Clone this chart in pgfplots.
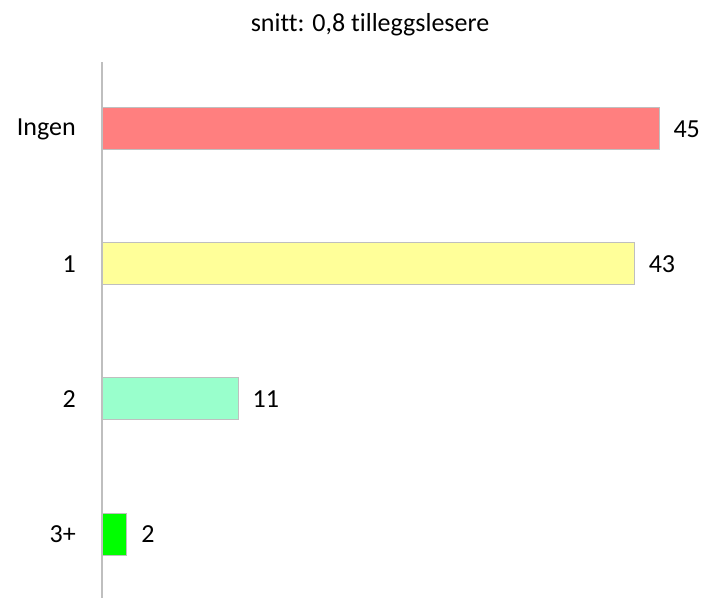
\documentclass[border=0pt]{standalone}
\usepackage{fontspec}
\setmainfont{Carlito}[Ligatures=NoCommon]
\usepackage{pgfplots}
\pgfplotsset{compat=1.18}
\definecolor{cIngen}{HTML}{FF7F7F}
\definecolor{cEn}{HTML}{FFFF99}
\definecolor{cTo}{HTML}{99FFCC}
\definecolor{cTre}{HTML}{00FF00}
\definecolor{edge}{HTML}{BFBFBF}
\begin{document}
\fontsize{19.5}{23}\selectfont
\begin{tikzpicture}
\useasboundingbox (0,0) rectangle (528.75pt,448.5pt);
\node[font=\fontsize{19.5}{23}\selectfont] at (277.5pt,429.75pt) {snitt: 0,8 tilleggslesere};
\begin{axis}[
  at={(76.5pt,0pt)}, anchor=south west,
  scale only axis, width=441pt, height=402pt,
  xmin=0, xmax=47.5, ymin=-0.474, ymax=3.496,
  xbar, bar width=31.5pt, bar shift=0pt,
  axis lines*=left,
  x axis line style={draw=none},
  y axis line style={draw=edge, line width=1.1pt},
  xtick=\empty,
  ytick={0,1,2,3},
  yticklabels={3+,2,1,Ingen},
  major tick length=0pt,
  yticklabel style={font=\fontsize{19.5}{23}\selectfont, xshift=-13pt},
  /pgf/number format/assume math mode=true,
  nodes near coords,
  nodes near coords style={font=\fontsize{19.5}{23}\selectfont, anchor=west, xshift=4pt, text=black},
  clip=false,
]
\addplot[fill=cIngen, draw=edge, line width=0.75pt] coordinates {(45,3)};
\addplot[fill=cEn, draw=edge, line width=0.75pt] coordinates {(43,2)};
\addplot[fill=cTo, draw=edge, line width=0.75pt] coordinates {(11,1)};
\addplot[fill=cTre, draw=edge, line width=0.75pt] coordinates {(2,0)};
\end{axis}
\end{tikzpicture}
\end{document}
